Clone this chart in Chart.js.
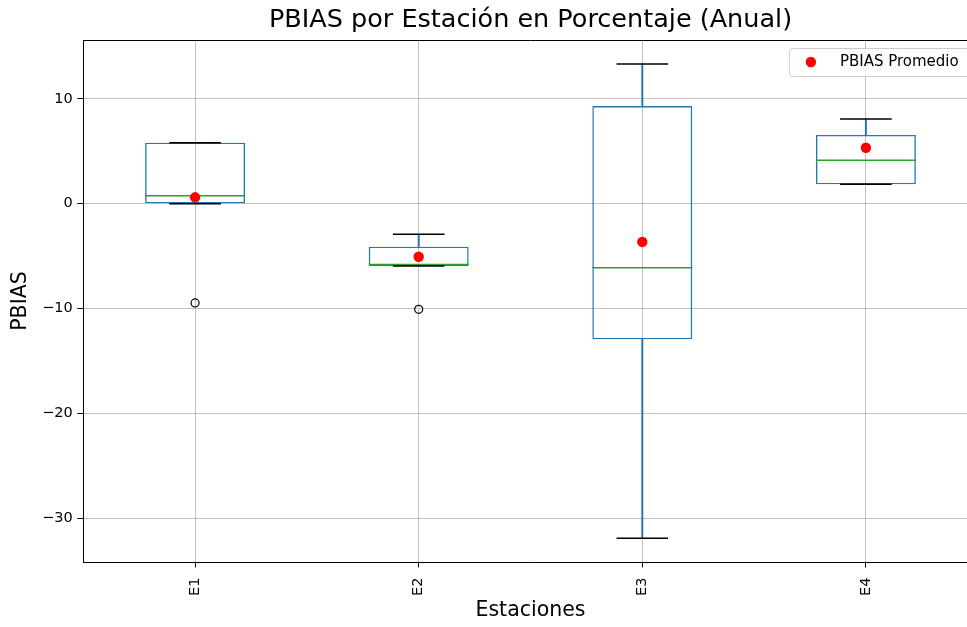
<!DOCTYPE html>
<html>
<head>
<meta charset="utf-8">
<script src="https://cdn.jsdelivr.net/npm/chart.js@4.4.1/dist/chart.umd.min.js"></script>
<style>
  html, body { margin: 0; padding: 0; background: #fff; overflow: hidden; }
  #wrap { width: 967px; height: 627px; overflow: hidden; }
</style>
</head>
<body>
<div id="wrap"><canvas id="pbiasChart" width="1061" height="627"></canvas></div>
<script>
// Datos (PBIAS anual por estacion)
const stations = ["E1", "E2", "E3", "E4"];
const q1Values = [0.0, -5.95, -12.94, 1.85];
const q3Values = [5.82, -4.10, 9.32, 6.56];
const medianValues = [0.76, -5.79, -6.11, 4.14];
const whiskerLow = [0.0, -5.95, -31.93, 1.85];
const whiskerHigh = [5.82, -2.92, 13.33, 8.08];
const meanValues = [0.61, -5.06, -3.65, 5.34];
const outlierValues = [-9.47, -10.08, null, null];
const yTicks = [-30, -20, -10, 0, 10];
const yMin = -34.19;
const yMax = 15.62;

const meanLabel = "PBIAS Promedio";
const FONT = "'DejaVu Sans', sans-serif";
const BLUE = "#1f77b4";
const GREEN = "#2ca02c";

Chart.defaults.font.family = FONT;
Chart.defaults.color = "#000";

const toPair = (a, b) => a.map((v, i) => [v, b[i]]);
const fmtTick = (v) => (v < 0 ? "\u2212" + Math.abs(v) : String(v));

// marco superior/derecho (spines)
const framePlugin = {
  id: "frame",
  afterDatasetsDraw(chart) {
    const { ctx, chartArea: a } = chart;
    ctx.save();
    ctx.strokeStyle = "#000";
    ctx.lineWidth = 1;
    ctx.beginPath();
    ctx.moveTo(a.left, a.top + 0.5);
    ctx.lineTo(a.right, a.top + 0.5);
    ctx.moveTo(a.right - 0.5, a.top);
    ctx.lineTo(a.right - 0.5, a.bottom);
    ctx.stroke();
    ctx.restore();
  }
};

// leyenda estilo matplotlib (solo el promedio)
const legendPlugin = {
  id: "meanLegend",
  afterDraw(chart) {
    const ds = chart.data.datasets.find((d) => d.label === meanLabel);
    const { ctx, chartArea: a } = chart;
    ctx.save();
    ctx.font = "15px " + FONT;
    const textW = ctx.measureText(ds.label).width;
    const h = 28;
    const right = a.right - 7;
    const top = a.top + 8;
    const left = right - (51 + textW + 12);
    ctx.beginPath();
    ctx.roundRect(left + 0.5, top + 0.5, right - left, h, 3);
    ctx.fillStyle = "rgba(255,255,255,0.8)";
    ctx.fill();
    ctx.strokeStyle = "#cccccc";
    ctx.lineWidth = 1;
    ctx.stroke();
    ctx.beginPath();
    ctx.arc(left + 22, top + h / 2, ds.pointRadius, 0, Math.PI * 2);
    ctx.fillStyle = ds.pointBackgroundColor;
    ctx.fill();
    ctx.fillStyle = "#000";
    ctx.textBaseline = "middle";
    ctx.fillText(ds.label, left + 51, top + h / 2);
    ctx.restore();
  }
};

new Chart(document.getElementById("pbiasChart"), {
  type: "bar",
  data: {
    labels: stations,
    datasets: [
      {
        label: "Bigote superior",
        data: toPair(q3Values, whiskerHigh),
        backgroundColor: BLUE,
        borderWidth: 0,
        barThickness: 1.3,
        grouped: false,
        order: 6
      },
      {
        label: "Bigote inferior",
        data: toPair(whiskerLow, q1Values),
        backgroundColor: BLUE,
        borderWidth: 0,
        barThickness: 1.3,
        grouped: false,
        order: 6
      },
      {
        label: "Caja",
        data: toPair(q1Values, q3Values),
        backgroundColor: "rgba(0,0,0,0)",
        borderColor: BLUE,
        borderWidth: 1.4,
        borderSkipped: false,
        barPercentage: 0.447,
        categoryPercentage: 1,
        grouped: false,
        order: 5
      },
      {
        type: "line",
        label: "Tope superior",
        data: whiskerHigh,
        showLine: false,
        pointStyle: "line",
        pointRadius: 25.8,
        pointBorderColor: "#000",
        pointBorderWidth: 1.4,
        order: 4
      },
      {
        type: "line",
        label: "Tope inferior",
        data: whiskerLow,
        showLine: false,
        pointStyle: "line",
        pointRadius: 25.8,
        pointBorderColor: "#000",
        pointBorderWidth: 1.4,
        order: 4
      },
      {
        type: "line",
        label: "Mediana",
        data: medianValues,
        showLine: false,
        pointStyle: "line",
        pointRadius: 50,
        pointBorderColor: GREEN,
        pointBorderWidth: 1.4,
        order: 3
      },
      {
        type: "line",
        label: "Atipicos",
        data: outlierValues,
        showLine: false,
        pointStyle: "circle",
        pointRadius: 4,
        pointBackgroundColor: "rgba(0,0,0,0)",
        pointBorderColor: "#000",
        pointBorderWidth: 1.2,
        order: 2
      },
      {
        type: "line",
        label: meanLabel,
        data: meanValues,
        showLine: false,
        pointStyle: "circle",
        pointRadius: 5.2,
        pointBackgroundColor: "#ff0000",
        pointBorderColor: "#ff0000",
        pointBorderWidth: 0,
        order: 0
      }
    ]
  },
  options: {
    responsive: false,
    animation: false,
    events: [],
    layout: { padding: 0, autoPadding: false },
    plugins: {
      legend: { display: false },
      tooltip: { enabled: false },
      title: {
        display: true,
        text: "PBIAS por Estación en Porcentaje (Anual)",
        color: "#000",
        font: { size: 25.5, weight: "normal", family: FONT },
        padding: { top: 4.7, bottom: 4.7 }
      }
    },
    scales: {
      x: {
        offset: true,
        grid: {
          offset: false,
          color: "#b0b0b0",
          lineWidth: 0.8,
          tickLength: 5.5,
          tickColor: "#000",
          tickWidth: 1
        },
        border: { color: "#000", width: 1 },
        ticks: {
          autoSkip: false,
          minRotation: 90,
          maxRotation: 90,
          padding: 10,
          color: "#000",
          font: { size: 14.5 }
        },
        title: {
          display: true,
          text: "Estaciones",
          color: "#000",
          font: { size: 20.5 },
          padding: { top: 0, bottom: 4.5 }
        },
        afterFit: (s) => { s.height = 65; }
      },
      y: {
        min: yMin,
        max: yMax,
        grid: {
          color: "#b0b0b0",
          lineWidth: 0.8,
          tickLength: 6,
          tickColor: "#000",
          tickWidth: 1
        },
        border: { color: "#000", width: 1 },
        ticks: {
          padding: 4.5,
          color: "#000",
          font: { size: 14.5 },
          callback: (v) => fmtTick(v)
        },
        afterBuildTicks: (s) => { s.ticks = yTicks.map((v) => ({ value: v })); },
        title: {
          display: true,
          text: "PBIAS",
          color: "#000",
          font: { size: 20.5 },
          padding: { top: 8.5, bottom: 0 }
        },
        afterFit: (s) => { s.width = 83.3; }
      },
      // eje fantasma a la derecha: centra el titulo sobre el area del grafico
      yRight: {
        type: "linear",
        position: "right",
        display: true,
        grid: { display: false },
        border: { display: false },
        ticks: { display: false },
        afterFit: (s) => { s.width = 83.3; }
      }
    }
  },
  plugins: [framePlugin, legendPlugin]
});
</script>
</body>
</html>
